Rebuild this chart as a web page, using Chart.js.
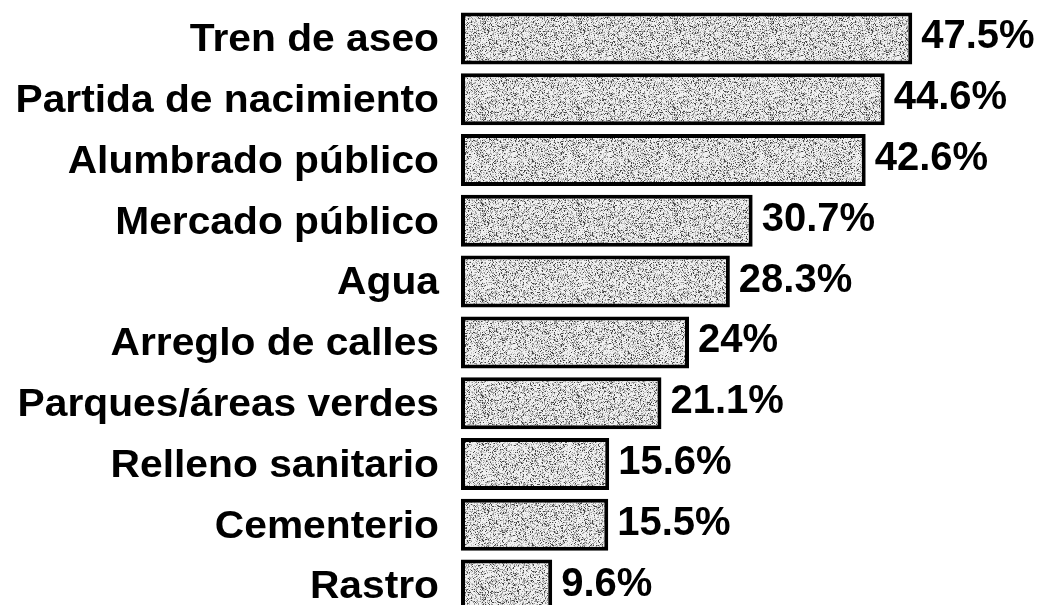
<!DOCTYPE html>
<html>
<head>
<meta charset="utf-8">
<script src="https://cdn.jsdelivr.net/npm/chart.js@4/dist/chart.umd.min.js"></script>
<style>
  html, body { margin: 0; padding: 0; background: #fff; overflow: hidden; }
  #wrap { width: 1039px; height: 620px; position: relative; }
</style>
</head>
<body>
<div id="wrap"><canvas id="chart"></canvas></div>
<script>
// -------------------- DATA --------------------
const categories = [
  "Tren de aseo",
  "Partida de nacimiento",
  "Alumbrado público",
  "Mercado público",
  "Agua",
  "Arreglo de calles",
  "Parques/áreas verdes",
  "Relleno sanitario",
  "Cementerio",
  "Rastro"
];
const values = [47.5, 44.6, 42.6, 30.7, 28.3, 24, 21.1, 15.6, 15.5, 9.6];
const valueLabels = ["47.5%", "44.6%", "42.6%", "30.7%", "28.3%", "24%", "21.1%", "15.6%", "15.5%", "9.6%"];

const FONT = "'Liberation Sans', Arial, sans-serif";

// -------------------- FILL TEXTURE --------------------
// speckled grey like the printed/scanned bars (deterministic hash, not data)
function speckle() {
  let c = document.createElement("canvas");
  c.width = 96; c.height = 96;
  let g = c.getContext("2d");
  let img = g.createImageData(96, 96);
  for (let i = 0; i < 96 * 96; i++) {
    let h = Math.sin(i * 12.9898 + (i % 7) * 78.233) * 43758.5453;
    h = h - Math.floor(h);
    let v = 240;
    if (h > 0.9) v = 70;
    else if (h > 0.74) v = 150;
    else if (h > 0.55) v = 200;
    img.data[i * 4] = v; img.data[i * 4 + 1] = v; img.data[i * 4 + 2] = v; img.data[i * 4 + 3] = 255;
  }
  g.putImageData(img, 0, 0);
  return g.createPattern(c, "repeat");
}

// -------------------- LABELS --------------------
const labelPlugin = {
  id: "labels",
  afterDatasetsDraw(chart) {
    let ctx = chart.ctx;
    let meta = chart.getDatasetMeta(0);
    let yScale = chart.scales.y;
    let right = chart.chartArea.left - 22;
    ctx.fillStyle = "#000";
    ctx.textBaseline = "middle";

    // category names, right aligned against the bars (slightly wide lettering)
    ctx.save();
    ctx.font = "bold 39px " + FONT;
    ctx.textAlign = "right";
    ctx.translate(right, 0);
    ctx.scale(1.045, 1);
    categories.forEach((name, i) => {
      ctx.fillText(name, 0, yScale.getPixelForValue(i) + 2);
    });
    ctx.restore();

    // percentages at the bar ends
    ctx.save();
    ctx.fillStyle = "#000";
    ctx.textBaseline = "middle";
    ctx.font = "bold 40px " + FONT;
    ctx.textAlign = "left";
    meta.data.forEach((bar, i) => {
      ctx.fillText(valueLabels[i], bar.x + 9, bar.y - 1);
    });
    ctx.restore();
  }
};

// -------------------- CHART --------------------
new Chart(document.getElementById("chart"), {
  type: "bar",
  data: {
    labels: categories,
    datasets: [{
      data: values,
      backgroundColor: speckle(),
      borderColor: "#000",
      borderWidth: 4,
      borderSkipped: false,
      categoryPercentage: 1,
      barPercentage: 0.855
    }]
  },
  options: {
    indexAxis: "y",
    responsive: true,
    maintainAspectRatio: false,
    animation: false,
    layout: { padding: { top: 8, bottom: 4, left: 461, right: 8 } },
    plugins: { legend: { display: false }, tooltip: { enabled: false } },
    scales: {
      x: { min: 0, max: 60, display: false },
      y: { display: false }
    }
  },
  plugins: [labelPlugin]
});
</script>
</body>
</html>
